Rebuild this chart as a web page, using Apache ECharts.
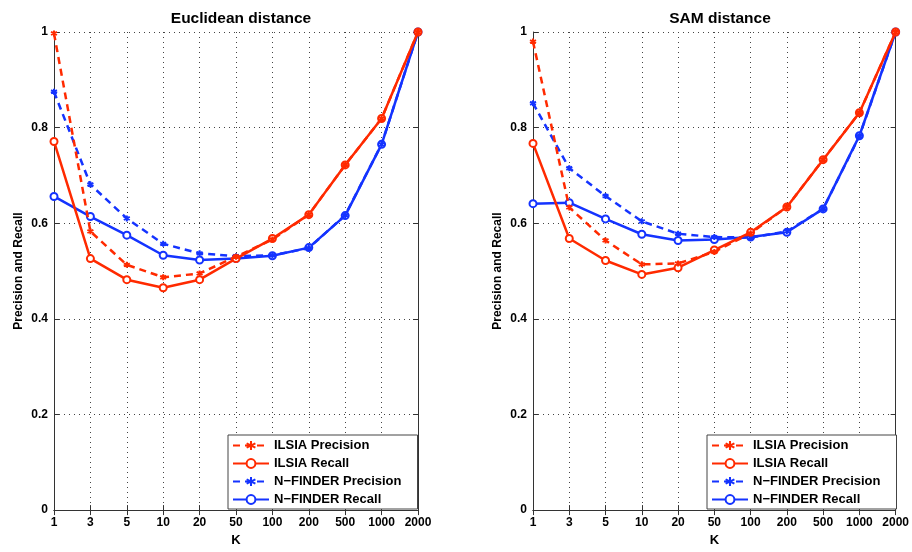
<!DOCTYPE html>
<html><head><meta charset="utf-8">
<script src="https://cdn.jsdelivr.net/npm/echarts@6/dist/echarts.min.js"></script>
<style>html,body{margin:0;padding:0;background:#fff}#c{width:912px;height:552px}</style>
</head><body><div id="c"></div>
<script>
const categories = ['1','3','5','10','20','50','100','200','500','1000','2000'];
const yTicks = [0, 0.2, 0.4, 0.6, 0.8, 1];
const titles = ['Euclidean distance', 'SAM distance'];
const seriesNames = ['ILSIA Precision', 'ILSIA Recall', 'N\u2212FINDER Precision', 'N\u2212FINDER Recall'];

// Euclidean distance
const eucIlsiaPrecision = [0.997, 0.583, 0.513, 0.487, 0.495, 0.530, 0.566, 0.618, 0.722, 0.819, 1.0];
const eucIlsiaRecall    = [0.771, 0.526, 0.482, 0.465, 0.482, 0.526, 0.568, 0.618, 0.722, 0.819, 1.0];
const eucNfPrecision    = [0.875, 0.681, 0.610, 0.557, 0.537, 0.531, 0.533, 0.548, 0.617, 0.765, 1.0];
const eucNfRecall       = [0.656, 0.614, 0.575, 0.533, 0.523, 0.526, 0.532, 0.549, 0.616, 0.765, 1.0];

// SAM distance
const samIlsiaPrecision = [0.980, 0.633, 0.564, 0.514, 0.516, 0.540, 0.579, 0.634, 0.733, 0.831, 1.0];
const samIlsiaRecall    = [0.767, 0.568, 0.522, 0.493, 0.507, 0.544, 0.581, 0.634, 0.733, 0.831, 1.0];
const samNfPrecision    = [0.851, 0.715, 0.657, 0.604, 0.578, 0.571, 0.570, 0.583, 0.630, 0.782, 1.0];
const samNfRecall       = [0.641, 0.643, 0.609, 0.577, 0.564, 0.566, 0.571, 0.581, 0.630, 0.783, 1.0];

const RED = '#ff2a00', BLUE = '#1433ff';
const STAR = 'path://M0,-10L0,10M-8.66,-5L8.66,5M-8.66,5L8.66,-5';
const FONT = '"Liberation Sans", Arial, sans-serif';

const chart = echarts.init(document.getElementById('c'), null, {renderer:'canvas'});

const grids = [
  {left:54, right:494, top:32, bottom:35},
  {left:533, right:15, top:32, bottom:35}
];
const datasets = [
  [eucIlsiaPrecision, eucIlsiaRecall, eucNfPrecision, eucNfRecall],
  [samIlsiaPrecision, samIlsiaRecall, samNfPrecision, samNfRecall]
];

const xAxis = [], yAxis = [], series = [], title = [], legend = [];
grids.forEach((g, i) => {
  const cx = g.left + (912 - g.left - g.right) / 2;
  title.push({text: titles[i], left: cx, top: 6, textAlign: 'center',
    textStyle:{fontFamily:FONT, fontSize:15.5, fontWeight:'bold', color:'#000'}});
  xAxis.push({type:'category', gridIndex:i, data:categories, boundaryGap:false,
    name:'K', nameLocation:'middle', nameGap:20,
    nameTextStyle:{fontFamily:FONT, fontSize:13, fontWeight:'bold', color:'#000'},
    axisLine:{lineStyle:{color:'#333', width:1}},
    axisTick:{inside:true, length:5, lineStyle:{color:'#333'}},
    axisLabel:{fontFamily:FONT, fontSize:12, fontWeight:'bold', color:'#000', margin:7, interval:0},
    splitLine:{show:true, lineStyle:{color:'#444', type:[1,4], width:1}}});
  xAxis.push({type:'category', gridIndex:i, data:categories, boundaryGap:false, position:'top',
    axisLine:{lineStyle:{color:'#333', width:1}},
    axisTick:{inside:true, length:5, lineStyle:{color:'#333'}},
    axisLabel:{show:false}, splitLine:{show:false}});
  yAxis.push({type:'value', gridIndex:i, min:0, max:1, interval:0.2,
    name:'Precision and Recall', nameLocation:'middle', nameGap:29,
    nameTextStyle:{fontFamily:FONT, fontSize:12, fontWeight:'bold', color:'#000'},
    axisLine:{show:true, lineStyle:{color:'#333', width:1}},
    axisTick:{show:true, inside:true, length:5, lineStyle:{color:'#333'}},
    axisLabel:{fontFamily:FONT, fontSize:12, fontWeight:'bold', color:'#000', margin:6,
      formatter: v => (v === 0 ? '0' : v === 1 ? '1' : v.toFixed(1))},
    splitLine:{show:true, lineStyle:{color:'#444', type:[1,4], width:1}}});
  yAxis.push({type:'value', gridIndex:i, min:0, max:1, interval:0.2, position:'right',
    axisLine:{show:true, lineStyle:{color:'#333', width:1}},
    axisTick:{show:true, inside:true, length:5, lineStyle:{color:'#333'}},
    axisLabel:{show:false}, splitLine:{show:false}});

  const defs = [
    {color:RED, dashed:true, sym:STAR},
    {color:RED, dashed:false, sym:'emptyCircle'},
    {color:BLUE, dashed:true, sym:STAR},
    {color:BLUE, dashed:false, sym:'emptyCircle'}
  ];
  defs.forEach((d, k) => {
    series.push({
      type:'line', name:seriesNames[k], xAxisIndex:2*i, yAxisIndex:2*i,
      data: datasets[i][k],
      symbol: d.sym, symbolSize: d.dashed ? 6 : 7,
      showAllSymbol:true,
      lineStyle:{color:d.color, width:2.5, type: d.dashed ? [7,5] : 'solid'},
      itemStyle:{color:d.color, borderColor:d.color, borderWidth: d.dashed ? 2 : 3},
      emphasis:{disabled:true}, z: 3 + (3 - k), animation:false
    });
  });

  legend.push({
    data: seriesNames.map(n => ({name:n})),
    orient:'vertical', left: 912 - g.right - 190, top: 435,
    padding:[4,16,3,4], itemGap:5, itemWidth:36, itemHeight:11,
    backgroundColor:'#fff', borderColor:'#444', borderWidth:1,
    textStyle:{fontFamily:FONT, fontSize:13, fontWeight:'bold', color:'#000'},
    selectedMode:false
  });
});

chart.setOption({animation:false, title, grid:grids, xAxis, yAxis, series, legend});
</script></body></html>
